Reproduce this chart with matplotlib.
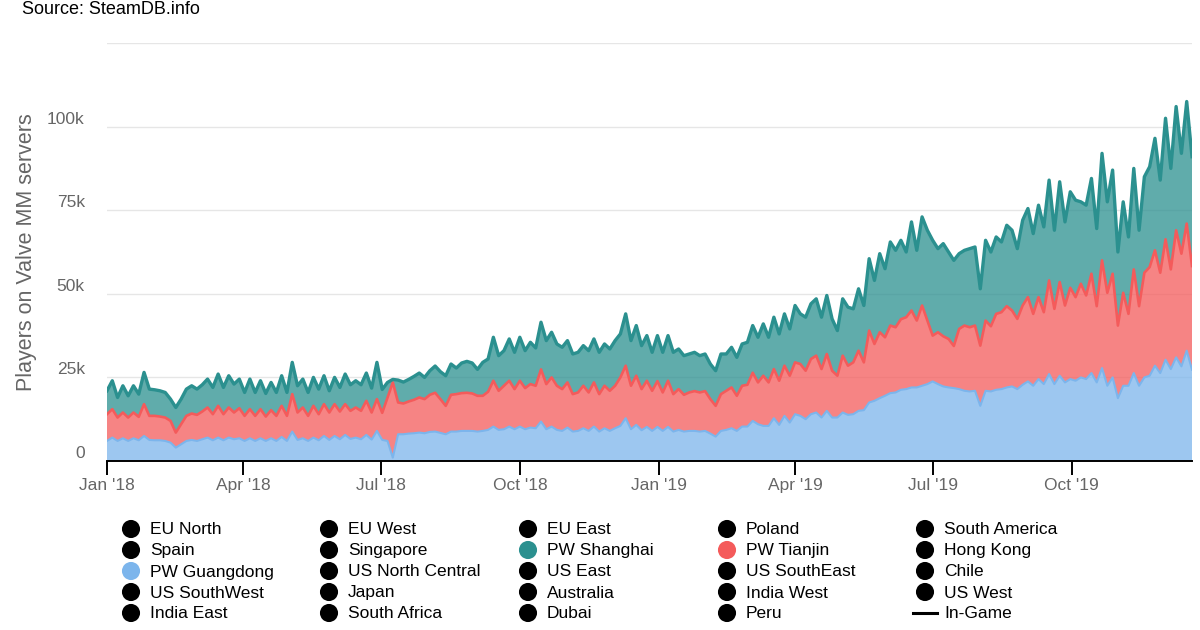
import numpy as np
import matplotlib.pyplot as plt
import matplotlib.dates as mdates

plt.rcParams['font.family'] = ['Liberation Sans', 'DejaVu Sans']

# players on the servers (thousands), one reading every 3.5 days from 1 Jan 2018
guangdong = [
    6, 7, 6, 6.8, 6, 6.8, 6.2, 7.5, 6.3, 6.2, 6.2, 6, 5.5, 4, 5, 6, 6.3, 6, 6.5, 7,
    6.2, 7, 6.2, 7, 6.5, 6.8, 6, 6.8, 6, 6.8, 6, 6.8, 6, 7.2, 6, 8.8, 6.3, 6.8, 6, 7,
    6.2, 7.5, 6.3, 7.5, 6.5, 7.8, 6.6, 7, 6.5, 7.8, 6.4, 9, 6.3, 6, 1, 8, 8, 8.2, 8.3, 8.5,
    8.3, 8.7, 8.8, 8.4, 8, 8.8, 8.8, 9, 9, 9, 8.8, 9, 9.3, 10.3, 9.3, 9.5, 10.3, 9.5, 10.3, 9.5,
    10, 9.8, 11.8, 9.5, 10.3, 9.3, 9, 10, 8.8, 9, 9.8, 9, 10.3, 8.8, 9.8, 9, 9.8, 10.5, 12.8, 9.5,
    10.8, 9.2, 10.2, 9, 10.2, 9, 10.2, 8.8, 9.3, 8.8, 9, 9, 8.8, 9, 8.2, 7.3, 9, 9.3, 9.8, 9,
    10.3, 10.3, 12, 11, 10.5, 10.5, 12.8, 10.8, 13.5, 11.5, 14, 13.5, 12.5, 14, 14.5, 13, 15, 13, 13, 14.5,
    13.8, 14, 15, 15.2, 17.5, 18, 18.8, 19.5, 20.3, 20.5, 21.3, 21.5, 22, 22, 22.5, 23, 23.8, 23, 22.3, 22,
    21.8, 21.5, 21, 20.8, 21, 16.5, 21, 20.8, 21.3, 21.5, 22, 22.3, 21.5, 22.8, 23.8, 22.5, 24.5, 23, 26, 23,
    25.5, 23.5, 24.5, 24, 25, 24.5, 26.3, 23.5, 27.8, 22.5, 25, 18.8, 22.5, 22.5, 26.3, 22.5, 25, 25.5, 28.5, 26.3,
    30.3, 27.5, 31, 28.3, 33, 27.3,
]
tianjin = [
    8, 8.5, 7, 7.7, 7, 7.7, 7, 9.5, 7.2, 7.3, 7.1, 7, 6.5, 4.5, 6, 7.5, 7.9, 7.8, 8.3, 9,
    7.8, 9.5, 7.8, 9, 8, 9, 7.5, 8.7, 7.5, 8.7, 7.3, 8.4, 7.5, 9.3, 7.5, 11.2, 8.2, 9.2, 7.5, 9.5,
    7.8, 9.5, 8.2, 9.5, 8.3, 9.2, 8.4, 9, 8.5, 10.2, 8.1, 9.5, 8.1, 13, 22.5, 9.5, 9.2, 9.6, 10, 10.5,
    10.2, 11.1, 11.6, 10.1, 8.5, 11, 11.2, 11.3, 11.4, 11.2, 10.7, 10.5, 11.4, 13.7, 11.7, 13, 13.7, 12, 13.7, 12.3,
    13, 12.7, 15.6, 13.5, 14.7, 13.2, 12.5, 13.5, 11.2, 11.5, 12.7, 11.5, 13.2, 11.2, 12.7, 12, 12.7, 14.5, 15.7, 13,
    14.7, 12.3, 13.8, 12, 13.7, 11.5, 13.8, 11.2, 12.2, 11, 11.5, 11.9, 11.7, 11.9, 10.3, 9.2, 11, 11.7, 12.2, 10.5,
    12.2, 12.5, 14.4, 12.5, 15, 13, 14.7, 13.2, 15, 14, 15.5, 15.5, 14.5, 16.5, 17, 14.5, 17, 14, 12.5, 17,
    14.7, 15.5, 18, 14.3, 21.5, 17, 19.7, 17.5, 20.2, 19.5, 21.1, 21.5, 23, 20, 24, 19, 13.7, 15.5, 15, 14.5,
    12.6, 18, 19.5, 19.2, 19.5, 18, 21, 19.5, 22.7, 23, 24.3, 22.7, 21, 23.7, 25.2, 21.5, 24.5, 21.5, 28, 22.5,
    28, 23, 27.3, 25, 28, 25, 29.7, 22.8, 32.2, 27.8, 31, 21.7, 27.8, 21.5, 31, 23.8, 31.3, 32.5, 34.5, 30,
    36, 29.8, 38, 33.7, 38, 31,
]
shanghai = [
    7, 8.5, 6, 8, 6.5, 8, 6.8, 9.5, 8, 7.8, 7.7, 7.5, 6.5, 7.5, 7.5, 8, 8.3, 7.7, 8, 8.5,
    8, 9.5, 8, 9.5, 8.5, 8.7, 7, 9, 7, 8.5, 6.9, 8.3, 7, 9, 7, 9.5, 8, 8.5, 7, 8.5,
    7.5, 8.5, 6.5, 8, 7.2, 9, 7.8, 8, 7.8, 8.3, 7.3, 11, 7, 4.5, 0.9, 6.7, 6.4, 6.6, 7, 7.3,
    6.5, 7.2, 8, 8.2, 9, 9.2, 7.8, 9, 9.4, 9.1, 7.9, 10, 9.8, 13, 10.5, 10.5, 12.5, 11, 13, 11.2,
    12.5, 11.3, 14.1, 13, 13.5, 12.5, 12.5, 12.5, 12, 12, 12, 12.5, 13, 12.5, 12.5, 12.5, 13.5, 13, 15.5, 13.5,
    15, 13, 13.5, 11.5, 13.6, 12, 13.5, 12.5, 12, 11.7, 11.5, 11.6, 11, 11.1, 10.5, 10.5, 12, 11, 12, 11.5,
    12.5, 12.7, 14.1, 13.5, 15.5, 13.5, 15.5, 14, 15.5, 14, 17, 15, 16, 16.5, 17, 15.5, 17.5, 15.5, 13.5, 17,
    17.5, 16, 18.5, 17, 21.5, 19, 23.5, 20.5, 25, 23, 23.6, 19.5, 26.5, 21, 26.5, 27, 28.5, 25, 27.7, 26,
    25.6, 22.5, 22.5, 23.5, 23.5, 17, 24, 22.2, 23, 21, 24.2, 24, 21, 25.5, 26.5, 24, 27.5, 25.5, 30, 23.5,
    30, 25, 28.7, 29, 24.5, 27, 28.5, 23.2, 32, 27.2, 31, 22, 27.2, 23, 30.2, 22.7, 28.7, 30, 33.5, 27.7,
    36.2, 30.2, 37, 30, 36.5, 32.7,
]

series_colors = ['#7cb5ec', '#f45b5b', '#2b908f']

tick_dates = ['2018-01-01', '2018-04-01', '2018-07-01', '2018-10-01',
              '2019-01-01', '2019-04-01', '2019-07-01', '2019-10-01']
tick_labels = ["Jan '18", "Apr '18", "Jul '18", "Oct '18",
               "Jan '19", "Apr '19", "Jul '19", "Oct '19"]
y_ticks = [0, 25, 50, 75, 100, 125]
y_labels = ['0', '25k', '50k', '75k', '100k', '']

legend_rows = [
    ['EU North', 'EU West', 'EU East', 'Poland', 'South America'],
    ['Spain', 'Singapore', 'PW Shanghai', 'PW Tianjin', 'Hong Kong'],
    ['PW Guangdong', 'US North Central', 'US East', 'US SouthEast', 'Chile'],
    ['US SouthWest', 'Japan', 'Australia', 'India West', 'US West'],
    ['India East', 'South Africa', 'Dubai', 'Peru', 'In-Game'],
]
legend_colors = {'PW Guangdong': '#7cb5ec', 'PW Tianjin': '#f45b5b',
                 'PW Shanghai': '#2b908f'}

start = mdates.datestr2num('2018-01-01')
x = start + 3.5 * np.arange(len(guangdong))

fig = plt.figure(figsize=(12, 6.3), dpi=100)
ax = fig.add_axes([107 / 1200, 169 / 630, 1085 / 1200, 418 / 630])

stack = np.cumsum([guangdong, tianjin, shanghai], axis=0)
ax.stackplot(x, guangdong, tianjin, shanghai, colors=series_colors,
             alpha=0.75, linewidth=0, zorder=2)
for top, c, lw in zip(stack, series_colors, [1.5, 1.9, 2.4]):
    ax.plot(x, top, color=c, lw=lw, zorder=3, solid_joinstyle='round')

ax.set_xlim(start, x[-1])
ax.set_ylim(0, 125)
ax.set_xticks([mdates.datestr2num(d) for d in tick_dates])
ax.set_xticklabels(tick_labels)
ax.set_yticks(y_ticks)
ax.set_yticklabels(y_labels)
for lab in ax.get_yticklabels():
    lab.set_verticalalignment('bottom')

ax.grid(axis='y', color='#e6e6e6', lw=1, zorder=0)
for side in ['top', 'right', 'left']:
    ax.spines[side].set_visible(False)
ax.spines['bottom'].set_color('black')
ax.spines['bottom'].set_linewidth(1.4)
ax.spines['bottom'].set_zorder(4)
ax.tick_params(axis='x', direction='out', length=10, width=1.4, color='black',
               labelsize=12.5, labelcolor='#666666', pad=2)
ax.tick_params(axis='y', length=0, labelsize=12.5, labelcolor='#666666', pad=16)
ax.set_ylabel('Players on Valve MM servers', fontsize=15.5, color='#666666')
ax.yaxis.set_label_coords(-70 / 1085, 0.5)

# legend and source note, laid out in pixel coordinates
lax = fig.add_axes([0, 0, 1, 1])
lax.set_xlim(0, 1200)
lax.set_ylim(630, 0)
lax.axis('off')
lax.text(22, 10, 'Source: SteamDB.info', fontsize=13, va='center', ha='left')

col_x = [131, 329, 528, 727, 925]
row_y = [529, 550, 571, 592, 613]
for r, row in enumerate(legend_rows):
    for c, name in enumerate(row):
        cx, cy = col_x[c], row_y[r]
        if name == 'In-Game':
            lax.plot([cx - 12, cx + 12], [cy, cy], color='black', lw=2.2)
        else:
            lax.scatter([cx], [cy], s=170, color=legend_colors.get(name, 'black'),
                        edgecolors='none')
        lax.text(cx + 19, cy + 1, name, fontsize=12.5, va='center', ha='left')

fig.savefig('out.png', dpi=100)
